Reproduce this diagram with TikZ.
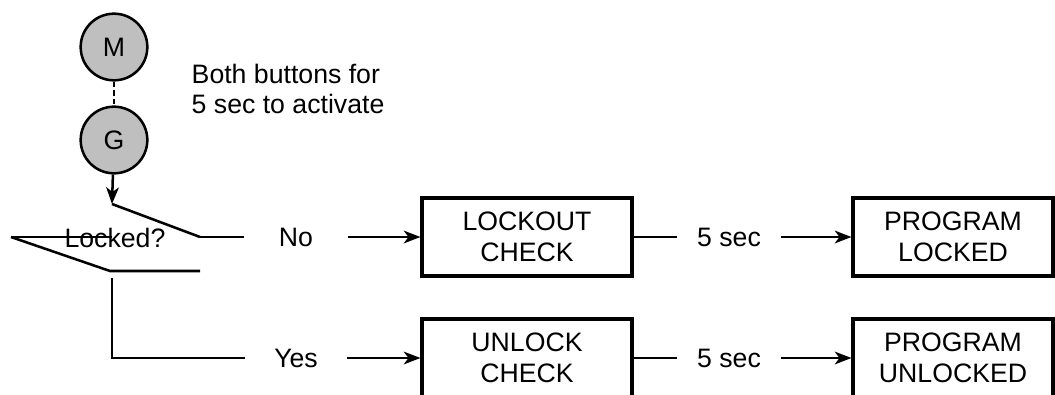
\documentclass[tikz,border=0pt]{standalone}
\usepackage{fontspec}
\setmainfont{Liberation Sans}
\usetikzlibrary{arrows.meta, positioning}

\begin{document}
\begin{tikzpicture}[x=0.75pt, y=-0.75pt,
    font=\fontsize{20}{23}\selectfont,
    line width=1.9pt,
    button/.style={circle, draw, fill=black!25, minimum size=50pt, inner sep=0pt},
    stepbox/.style={draw, line width=2.3pt, minimum width=#1, minimum height=58.5pt, align=center, inner sep=0pt},
    gaplabel/.style={inner xsep=#1, inner ysep=2pt},
    arr/.style={-{Stealth[length=12.5pt, width=9.5pt, inset=3.5pt]}}]
    \useasboundingbox (0,0) rectangle (1055,394);
    \clip (0,0) rectangle (1055,394);

    % buttons
    \node[button] (m) at (114,47) {M};
    \node[button] (g) at (114,140) {G};
    \draw[dash pattern=on 4pt off 2.5pt] (m) -- (g);
    \node[anchor=west, align=left] (hint) at (186,89) {Both buttons for\\5 sec to activate};

    % decision
    \coordinate (dectop) at (112,204);
    \coordinate (decR) at (200,237);
    \coordinate (decL) at (11,237);
    \coordinate (decB) at (110,271);
    \coordinate (decBR) at (200,271);
    \coordinate (decout) at (112,278);
    \coordinate (yesturn) at (112,358);
    \draw[arr] (g) -- (dectop);
    \draw (dectop) -- (decR);
    \draw (decL) -- (112,237);
    \draw (decL) -- (decB) -- (decBR);
    \node (locked) at (115,238) {Locked?};

    % top row
    \node[gaplabel=25pt] (no) at (296,237) {No};
    \node[stepbox=157.5pt] (lockout) at (527,237) {LOCKOUT\\CHECK};
    \node[gaplabel=14pt] (sec1) at (729,237) {5 sec};
    \node[stepbox=150pt] (plocked) at (953,237) {PROGRAM\\LOCKED};
    \draw (decR) -- (no);
    \draw[arr] (no) -- (lockout);
    \draw (lockout) -- (sec1);
    \draw[arr] (sec1) -- (plocked);

    % bottom row
    \node[gaplabel=21pt] (yes) at (296,358) {Yes};
    \node[stepbox=157.5pt] (unlock) at (527,358) {UNLOCK\\CHECK};
    \node[gaplabel=14pt] (sec2) at (729,358) {5 sec};
    \node[stepbox=150pt] (punlocked) at (953,358) {PROGRAM\\UNLOCKED};
    \draw (decout) -- (yesturn) -- (yes);
    \draw[arr] (yes) -- (unlock);
    \draw (unlock) -- (sec2);
    \draw[arr] (sec2) -- (punlocked);
\end{tikzpicture}
\end{document}
